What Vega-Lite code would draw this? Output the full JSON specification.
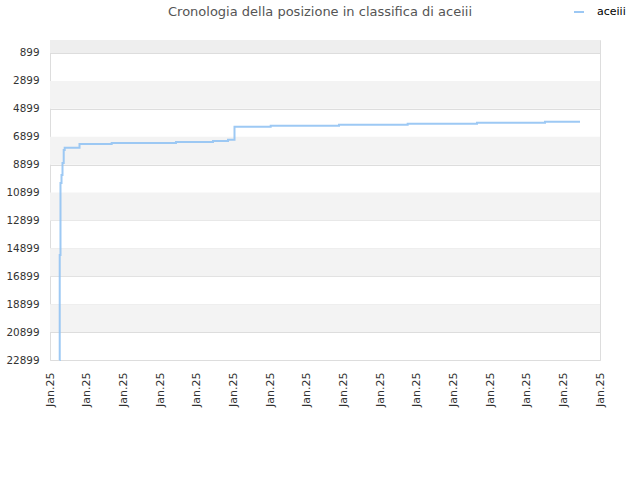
{
  "$schema": "https://vega.github.io/schema/vega-lite/v6.json",
  "width": 550,
  "height": 320,
  "autosize": "none",
  "padding": {"left": 50, "top": 40, "right": 40, "bottom": 120},
  "background": "white",
  "config": {
    "font": "DejaVu Sans",
    "view": {"stroke": "#dddddd", "strokeWidth": 1},
    "axis": {"labelOverlap": false, "labelBound": false}
  },
  "title": {
    "text": "Cronologia della posizione in classifica di aceiii",
    "fontSize": 13,
    "fontWeight": "normal",
    "color": "#555555",
    "anchor": "middle",
    "offset": -26,
    "baseline": "bottom",
    "dx": -5
  },
  "datasets": {
    "header": [{"y1": -32, "y2": 899}],
    "bands": [
      {"y1": 2899, "y2": 4899},
      {"y1": 6899, "y2": 8899},
      {"y1": 10899, "y2": 12899},
      {"y1": 14899, "y2": 16899},
      {"y1": 18899, "y2": 20899}
    ],
    "rank": [
      {"t": 0.259, "pos": 22899, "user": "aceiii"},
      {"t": 0.265, "pos": 15374, "user": "aceiii"},
      {"t": 0.286, "pos": 10215, "user": "aceiii"},
      {"t": 0.314, "pos": 9641, "user": "aceiii"},
      {"t": 0.341, "pos": 8782, "user": "aceiii"},
      {"t": 0.374, "pos": 7850, "user": "aceiii"},
      {"t": 0.401, "pos": 7685, "user": "aceiii"},
      {"t": 0.805, "pos": 7420, "user": "aceiii"},
      {"t": 1.683, "pos": 7348, "user": "aceiii"},
      {"t": 3.436, "pos": 7277, "user": "aceiii"},
      {"t": 4.445, "pos": 7205, "user": "aceiii"},
      {"t": 4.855, "pos": 7112, "user": "aceiii"},
      {"t": 5.032, "pos": 6180, "user": "aceiii"},
      {"t": 6.019, "pos": 6109, "user": "aceiii"},
      {"t": 7.882, "pos": 6037, "user": "aceiii"},
      {"t": 9.755, "pos": 5965, "user": "aceiii"},
      {"t": 11.645, "pos": 5894, "user": "aceiii"},
      {"t": 13.5, "pos": 5822, "user": "aceiii"},
      {"t": 14.455, "pos": 5822, "user": "aceiii"}
    ]
  },
  "layer": [
    {
      "data": {"name": "header"},
      "mark": {"type": "rect", "color": "#eeeeee"},
      "encoding": {
        "y": {
          "field": "y1", "type": "quantitative",
          "scale": {"domain": [-32, 22899], "reverse": true, "nice": false, "zero": false},
          "axis": {
            "title": null,
            "values": [899, 2899, 4899, 6899, 8899, 10899, 12899, 14899, 16899, 18899, 20899, 22899],
            "tickCount": 30,
            "format": "d", "labelOverlap": false,
            "labelFontSize": 10.4, "labelColor": "#333333", "labelPadding": 11,
            "ticks": false, "domain": false, "grid": true, "gridColor": "#dddddd", "gridWidth": 1
          }
        },
        "y2": {"field": "y2"}
      }
    },
    {
      "data": {"name": "bands"},
      "mark": {"type": "rect", "color": "#f3f3f3"},
      "encoding": {
        "y": {"field": "y1", "type": "quantitative"},
        "y2": {"field": "y2"}
      }
    },
    {
      "data": {"name": "rank"},
      "mark": {"type": "line", "interpolate": "step-after", "strokeWidth": 2, "opacity": 0.9},
      "encoding": {
        "x": {
          "field": "t", "type": "quantitative",
          "scale": {"domain": [0, 15], "nice": false, "zero": false},
          "axis": {
            "title": null, "values": [0,1,2,3,4,5,6,7,8,9,10,11,12,13,14,15],
            "tickCount": 30,
            "labelExpr": "'Jan.25'", "labelAngle": -90, "labelAlign": "right", "labelBaseline": "middle",
            "labelOverlap": false,
            "labelFontSize": 11, "labelColor": "#333333", "labelPadding": 12,
            "ticks": false, "grid": false, "domain": false
          }
        },
        "y": {"field": "pos", "type": "quantitative"},
        "color": {
          "field": "user", "type": "nominal",
          "scale": {"range": ["#92c3f3"]},
          "legend": {
            "title": null, "orient": "none", "legendX": 523, "legendY": -34,
            "symbolType": "stroke", "symbolSize": 100, "symbolStrokeWidth": 2,
            "labelFontSize": 11, "labelColor": "#000000", "labelOffset": 12
          }
        }
      }
    }
  ]
}
